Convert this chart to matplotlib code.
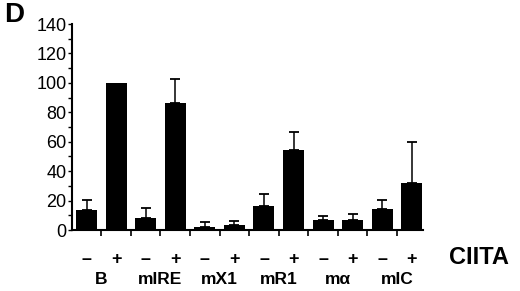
import numpy as np
import matplotlib
matplotlib.use("Agg")
import matplotlib.pyplot as plt
from matplotlib.ticker import MultipleLocator

plt.rcParams["font.family"] = ["Liberation Sans", "DejaVu Sans"]

groups = ["B", "mIRE", "mX1", "mR1", "m\u03b1", "mIC"]
signs = ["\u2013", "+"]
values = [13.6, 100, 8.4, 86.6, 2.3, 3.4, 16.3, 54.4, 6.8, 6.8, 14.3, 31.7]
err_top = [20.4, 100, 14.7, 102.7, 5.2, 6.3, 24.3, 66.9, 9.8, 10.9, 20.2, 60.0]

vals = np.array(values)
errs = np.array(err_top) - vals
x = np.arange(len(vals))

fig = plt.figure(figsize=(5.2, 2.91), dpi=100)
ax = fig.add_axes([0.1385, 0.2096, 0.813 - 0.1385, 0.9175 - 0.2096])

ax.bar(x, vals, width=0.71, color="black")
has_err = errs > 0
ax.errorbar(x[has_err], vals[has_err],
            yerr=[np.zeros(has_err.sum()), errs[has_err]], fmt="none",
            ecolor="black", elinewidth=1.1, capsize=3.5, capthick=1.3)

ax.set_xlim(-0.49, 11.37)
ax.set_ylim(0, 140)
ax.spines["top"].set_visible(False)
ax.spines["right"].set_visible(False)
ax.spines["left"].set_linewidth(1.5)
ax.spines["bottom"].set_linewidth(1.5)

ax.yaxis.set_major_locator(MultipleLocator(20))
ax.yaxis.set_minor_locator(MultipleLocator(10))
ax.tick_params(axis="y", which="both", direction="out", length=3, width=1, pad=1,
               labelsize=13)
ax.set_xticks(x[:-1] + 0.5)
ax.set_xticklabels([])
ax.tick_params(axis="x", direction="out", length=4, width=1.2)

for i in x:
    ax.text(i, -20, signs[i % 2], ha="center", va="center", fontsize=13,
            fontweight="bold", clip_on=False)
for g, name in enumerate(groups):
    ax.text(2 * g + 0.5, -33.5, name, ha="center", va="center", fontsize=12.5,
            fontweight="bold", clip_on=False)

fig.text(449 / 520, 1 - 258 / 291, "CIITA", ha="left", va="center",
         fontsize=17, fontweight="bold")
fig.text(4 / 520, 1 - 15 / 291, "D", ha="left", va="center",
         fontsize=20, fontweight="bold")

fig.savefig("out.png", dpi=100)
